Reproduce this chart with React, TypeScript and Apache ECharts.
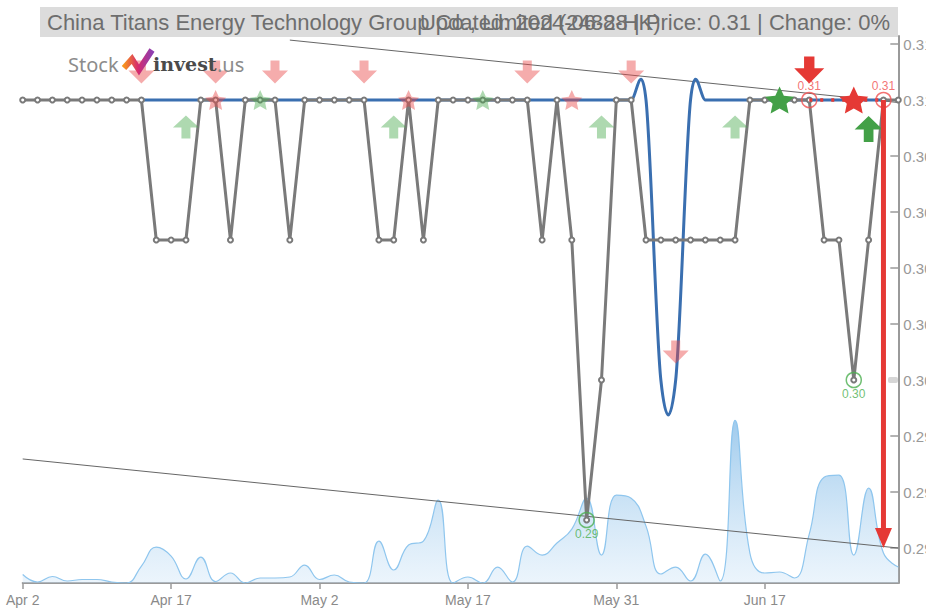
import React, { useEffect, useRef } from 'react';
import * as echarts from 'echarts';

// ---------- data ----------
const dates = [
  'Apr 2', 'Apr 3', 'Apr 5', 'Apr 8', 'Apr 9', 'Apr 10', 'Apr 11', 'Apr 12', 'Apr 15', 'Apr 16',
  'Apr 17', 'Apr 18', 'Apr 19', 'Apr 22', 'Apr 23', 'Apr 24', 'Apr 25', 'Apr 26', 'Apr 29', 'Apr 30',
  'May 2', 'May 3', 'May 6', 'May 7', 'May 8', 'May 9', 'May 10', 'May 13', 'May 14', 'May 16',
  'May 17', 'May 20', 'May 21', 'May 22', 'May 23', 'May 24', 'May 27', 'May 28', 'May 29', 'May 30',
  'May 31', 'Jun 3', 'Jun 4', 'Jun 5', 'Jun 6', 'Jun 7', 'Jun 11', 'Jun 12', 'Jun 13', 'Jun 14',
  'Jun 17', 'Jun 18', 'Jun 19', 'Jun 20', 'Jun 21', 'Jun 24', 'Jun 25', 'Jun 26', 'Jun 27', 'Jun 28',
];

const closePrice = [
  0.31, 0.31, 0.31, 0.31, 0.31, 0.31, 0.31, 0.31, 0.31, 0.305,
  0.305, 0.305, 0.31, 0.31, 0.305, 0.31, 0.31, 0.31, 0.305, 0.31,
  0.31, 0.31, 0.31, 0.31, 0.305, 0.305, 0.31, 0.305, 0.31, 0.31,
  0.31, 0.31, 0.31, 0.31, 0.31, 0.305, 0.31, 0.305, 0.295, 0.3,
  0.31, 0.31, 0.305, 0.305, 0.305, 0.305, 0.305, 0.305, 0.305, 0.31,
  0.31, 0.31, 0.31, 0.31, 0.305, 0.305, 0.3, 0.305, 0.31, 0.31,
];

const trendValues: (number | null)[] = [
  null, null, null, null, null, null, null, null, 0.31, 0.31,
  0.31, 0.31, 0.31, 0.31, 0.31, 0.31, 0.31, 0.31, 0.31, 0.31,
  0.31, 0.31, 0.31, 0.31, 0.31, 0.31, 0.31, 0.31, 0.31, 0.31,
  0.31, 0.31, 0.31, 0.31, 0.31, 0.31, 0.31, 0.31, 0.31, 0.31,
  0.31, 0.31, 0.31, 0.3, 0.3, 0.31, 0.31, 0.31, 0.31, 0.31,
  0.31, 0.31, 0.31, 0.31, 0.31, 0.31, 0.31, 0.31, 0.31, null,
];

// volume in thousands of shares
const volume = [
  85, 10, 65, 20, 35, 35, 10, 0, 170, 360,
  270, 40, 260, 15, 100, 0, 50, 50, 60, 180,
  35, 80, 10, 0, 420, 130, 380, 420, 830, 0,
  60, 0, 160, 10, 370, 280, 400, 540, 850, 280,
  880, 850, 570, 90, 160, 20, 290, 20, 1630, 300,
  100, 110, 50, 490, 1060, 1080, 280, 950, 300, 160,
];

const yTickValues = [0.294, 0.296, 0.298, 0.3, 0.302, 0.304, 0.306, 0.308, 0.31, 0.312];
const xLabelEvery = 10;

const sellFaded = [8, 13, 17, 23, 34, 41, 44];
const buyFaded = [11, 25, 39, 48];
const starRedFaded = [13, 26, 37];
const starGreenFaded = [16, 31];
const sellStrong = [53];
const buyStrong = [57];
const starGreenStrong = [51];
const starRedStrong = [56];
const highCircles = [53, 58];
const lowCircles = [38, 56];

const upperChannel: [number, number][] = [[18, 0.31214], [59, 0.30991]];
const lowerChannel: [number, number][] = [[0, 0.29718], [59, 0.294]];
const redDash: [number, number][] = [[53, 0.31], [58, 0.31]];
const forecastArrow: [number, number, number] = [58, 0.31, 0.294];

const titleLeft = 'China Titans Energy Technology Group Co., Limited (2488-HK)';
const titleRight = 'Updated: 2024-06-28 | Price: 0.31 | Change: 0%';

// ---------- shapes ----------
const downArrowPath = 'path://M8.5,0 H17.5 V10 H26 L13,23 L0,10 H8.5 Z';
const upArrowPath = 'path://M13,0 L26,12 H17.5 V23 H8.5 V12 H0 Z';
const starPath =
  'path://M50,0 L64.1,30.6 L97.6,34.5 L72.8,57.4 L79.4,90.5 L50,74 L20.6,90.5 L27.2,57.4 L2.4,34.5 L35.9,30.6 Z';

const RED = '#e53935';
const GREEN = '#43a047';
const RED_FADED = 'rgba(232, 72, 72, 0.45)';
const GREEN_FADED = 'rgba(76, 170, 80, 0.45)';

function markerSeries(
  idx: number[],
  symbol: string,
  size: number[],
  color: string,
  offsetY: number,
  z: number
) {
  return {
    type: 'scatter',
    silent: true,
    z,
    symbol,
    symbolSize: size,
    symbolOffset: [0, offsetY],
    itemStyle: { color, opacity: 1 },
    data: idx.map((i) => [i, trendValues[i] as number]),
  };
}

export default function App() {
  const ref = useRef<HTMLDivElement>(null);

  useEffect(() => {
    document.body.style.margin = '0';
    if (!ref.current) return;
    const chart = echarts.init(ref.current, undefined, { renderer: 'svg' });

    const option: any = {
      animation: false,
      backgroundColor: '#ffffff',
      grid: {
        left: 22.7,
        right: 27.7,
        top: 36,
        bottom: 27,
        containLabel: false,
        outerBoundsMode: 'none',
      },
      xAxis: {
        type: 'category',
        data: dates,
        boundaryGap: false,
        axisLine: { lineStyle: { color: '#9a9a9a', width: 2 } },
        axisTick: {
          show: true,
          length: 6,
          interval: (i: number) => i % xLabelEvery === 0,
          lineStyle: { color: '#9a9a9a', width: 1.5 },
        },
        axisLabel: {
          interval: (i: number) => i % xLabelEvery === 0,
          color: '#8a8a8a',
          fontSize: 14,
          fontFamily: 'Liberation Sans',
          margin: 10,
        },
        splitLine: { show: false },
      },
      yAxis: [
        {
          type: 'value',
          position: 'right',
          min: 0.29275,
          max: 0.312286,
          axisLine: { show: true, lineStyle: { color: '#9a9a9a', width: 2 } },
          axisTick: {
            show: true,
            inside: true,
            length: 8,
            customValues: yTickValues,
            lineStyle: { color: '#9a9a9a', width: 1.5 },
          },
          axisLabel: {
            customValues: yTickValues,
            formatter: (v: number) => v.toFixed(3),
            color: '#999999',
            fontSize: 15,
            fontFamily: 'Liberation Sans',
            margin: 5,
          },
          splitLine: { show: false },
        },
        {
          type: 'value',
          min: 0,
          max: 5480,
          show: false,
          splitLine: { show: false },
        },
      ],
      series: [
        {
          type: 'line',
          name: 'volume',
          yAxisIndex: 1,
          data: volume,
          smooth: 0.45,
          symbol: 'none',
          silent: true,
          z: 1,
          lineStyle: { color: '#8fc6ee', width: 1.2 },
          areaStyle: {
            color: new echarts.graphic.LinearGradient(0, 0, 0, 1, [
              { offset: 0, color: 'rgba(95, 168, 225, 0.85)' },
              { offset: 1, color: 'rgba(205, 228, 247, 0.55)' },
            ]),
          },
        },
        {
          type: 'line',
          data: upperChannel,
          symbol: 'none',
          silent: true,
          z: 2,
          lineStyle: { color: '#666', width: 1 },
        },
        {
          type: 'line',
          data: lowerChannel,
          symbol: 'none',
          silent: true,
          z: 2,
          lineStyle: { color: '#666', width: 1 },
        },
        {
          type: 'custom',
          silent: true,
          z: 3,
          data: [[0, 0.31]],
          renderItem: (_params: any, api: any) => {
            const pts: number[][] = [];
            trendValues.forEach((v, i) => {
              if (v != null) pts.push(api.coord([i, v]));
            });
            let d = `M${pts[0][0]},${pts[0][1]}`;
            for (let i = 0; i < pts.length - 1; i++) {
              const p0 = pts[Math.max(i - 1, 0)];
              const p1 = pts[i];
              const p2 = pts[i + 1];
              const p3 = pts[Math.min(i + 2, pts.length - 1)];
              const c1x = p1[0] + (p2[0] - p0[0]) / 6;
              const c1y = p1[1] + (p2[1] - p0[1]) / 6;
              const c2x = p2[0] - (p3[0] - p1[0]) / 6;
              const c2y = p2[1] - (p3[1] - p1[1]) / 6;
              d += ` C${c1x},${c1y} ${c2x},${c2y} ${p2[0]},${p2[1]}`;
            }
            return {
              type: 'path',
              shape: { pathData: d },
              style: { stroke: '#3a6fb0', lineWidth: 3, fill: 'none' },
            };
          },
        },
        {
          type: 'line',
          name: 'price',
          data: closePrice,
          z: 4,
          silent: true,
          symbol: 'emptyCircle',
          symbolSize: 5,
          itemStyle: { color: '#7a7a7a', borderWidth: 1 },
          lineStyle: { color: '#7a7a7a', width: 3 },
        },
        {
          type: 'line',
          data: redDash,
          symbol: 'none',
          silent: true,
          z: 5,
          lineStyle: { color: RED, width: 3.5, type: [3, 8] },
        },
        markerSeries(sellFaded, downArrowPath, [26, 23], RED_FADED, -28, 6),
        markerSeries(buyFaded, upArrowPath, [26, 23], GREEN_FADED, 27, 6),
        markerSeries(starRedFaded, starPath, [21, 20], RED_FADED, 0, 6),
        markerSeries(starGreenFaded, starPath, [21, 20], GREEN_FADED, 0, 6),
        markerSeries(sellStrong, downArrowPath, [30, 27], RED, -30, 7),
        markerSeries(buyStrong, upArrowPath, [28, 26], GREEN, 29, 7),
        markerSeries(starGreenStrong, starPath, [29, 27], GREEN, 0, 7),
        markerSeries(starRedStrong, starPath, [29, 27], RED, 0, 7),
        {
          type: 'scatter',
          silent: true,
          z: 8,
          symbol: 'circle',
          symbolSize: 15,
          itemStyle: { color: 'rgba(0,0,0,0)', borderColor: '#f05050', borderWidth: 1.5 },
          label: {
            show: true,
            position: 'top',
            distance: 0,
            color: '#f05050',
            fontSize: 12,
            fontFamily: 'Liberation Sans',
            formatter: (p: any) => (p.value[1] as number).toFixed(2),
          },
          data: highCircles.map((i) => [i, closePrice[i]]),
        },
        {
          type: 'scatter',
          silent: true,
          z: 8,
          symbol: 'circle',
          symbolSize: 15,
          itemStyle: { color: 'rgba(0,0,0,0)', borderColor: '#4caf50', borderWidth: 1.5 },
          label: {
            show: true,
            position: 'bottom',
            distance: 0,
            color: '#4caf50',
            fontSize: 12,
            fontFamily: 'Liberation Sans',
            formatter: (p: any) => (p.value[1] as number).toFixed(2),
          },
          data: lowCircles.map((i) => [i, closePrice[i]]),
        },
        {
          type: 'custom',
          silent: true,
          z: 9,
          data: [[forecastArrow[0], forecastArrow[1]]],
          renderItem: (_params: any, api: any) => {
            const a = api.coord([forecastArrow[0], forecastArrow[1]]);
            const b = api.coord([forecastArrow[0], forecastArrow[2]]);
            const headH = 20;
            const headW = 17;
            return {
              type: 'group',
              children: [
                {
                  type: 'line',
                  shape: { x1: a[0], y1: a[1], x2: b[0], y2: b[1] - headH + 2 },
                  style: { stroke: RED, lineWidth: 5 },
                },
                {
                  type: 'polygon',
                  shape: {
                    points: [
                      [b[0] - headW / 2, b[1] - headH],
                      [b[0] + headW / 2, b[1] - headH],
                      [b[0], b[1]],
                    ],
                  },
                  style: { fill: RED },
                },
              ],
            };
          },
        },
      ],
      graphic: [
        {
          type: 'rect',
          z: 100,
          shape: { x: 40, y: 7, width: 858, height: 30 },
          style: { fill: '#dcdcdc' },
        },
        {
          type: 'text',
          z: 101,
          x: 47,
          y: 22,
          style: {
            text: titleLeft,
            fill: '#6e6e6e',
            fontSize: 22,
            fontFamily: 'Liberation Sans',
            verticalAlign: 'middle',
          },
        },
        {
          type: 'text',
          z: 101,
          x: 890,
          y: 22,
          style: {
            text: titleRight,
            fill: '#6e6e6e',
            fontSize: 22,
            fontFamily: 'Liberation Sans',
            align: 'right',
            verticalAlign: 'middle',
          },
        },
        {
          type: 'text',
          z: 50,
          x: 68,
          y: 64,
          style: {
            text: 'Stock',
            fill: '#8c8c8c',
            fontSize: 20,
            fontFamily: 'Noto Sans',
            verticalAlign: 'middle',
          },
        },
        {
          type: 'polyline',
          z: 50,
          shape: { points: [[124, 68], [132, 59], [139, 70], [152, 50]] },
          style: {
            lineWidth: 6,
            lineJoin: 'miter',
            stroke: new echarts.graphic.LinearGradient(0, 0, 1, 0, [
              { offset: 0, color: '#f7941d' },
              { offset: 0.5, color: '#d62a6e' },
              { offset: 1, color: '#8e3fb0' },
            ]),
          },
        },
        {
          type: 'text',
          z: 50,
          x: 153,
          y: 64,
          style: {
            text: 'invest',
            fill: '#4a4a4a',
            fontSize: 19,
            fontWeight: 'bold',
            fontFamily: 'DejaVu Serif',
            verticalAlign: 'middle',
          },
        },
        {
          type: 'text',
          z: 50,
          x: 217,
          y: 64,
          style: {
            text: '.us',
            fill: '#8c8c8c',
            fontSize: 20,
            fontFamily: 'Noto Sans',
            verticalAlign: 'middle',
          },
        },
        {
          type: 'rect',
          z: 50,
          shape: { x: 888, y: 377, width: 10, height: 6, r: 2 },
          style: { fill: '#d6d6d6' },
        },
      ],
    };

    chart.setOption(option);
    return () => chart.dispose();
  }, []);

  return <div ref={ref} style={{ width: 926, height: 610 }} />;
}
